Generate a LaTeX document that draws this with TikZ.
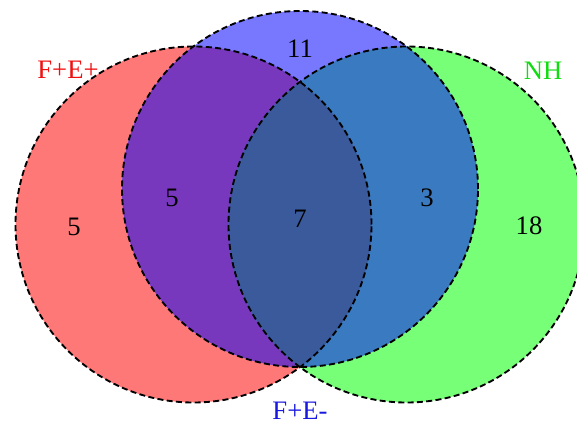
\documentclass[tikz,border=0pt]{standalone}
\usepackage{fontspec}
\setmainfont{Liberation Serif}
\usepackage{xcolor}
\usepackage{tikz}

\definecolor{setred}{HTML}{FF7878}
\definecolor{setblue}{HTML}{7878FF}
\definecolor{setgreen}{HTML}{78FF78}
\definecolor{redblue}{HTML}{7838BE}
\definecolor{bluegreen}{HTML}{3A7AC0}
\definecolor{allthree}{HTML}{3A5A9C}
\definecolor{labred}{HTML}{F01010}
\definecolor{labgreen}{HTML}{10DC10}
\definecolor{labblue}{HTML}{1818E0}

\begin{document}
\begin{tikzpicture}[
  x=0.75pt, y=-0.75pt,
  ring/.style={draw=black, dash pattern=on 4.5pt off 2.5pt, line width=1.4pt},
  count/.style={font=\fontsize{20}{24}\selectfont, text=black},
  setname/.style={font=\fontsize{20}{24}\selectfont},
  every node/.style={inner sep=0pt}
]
\useasboundingbox (0,0) rectangle (577,424);

% set centres
\coordinate (cR) at (193.5,224.5);
\coordinate (cB) at (300,189);
\coordinate (cG) at (406.5,224.5);

% single sets
\fill[setred] (cR) circle[radius=133.5pt];
\fill[setgreen] (cG) circle[radius=133.5pt];
\fill[setblue] (cB) circle[radius=133.5pt];

% pairwise overlaps
\begin{scope}
  \clip (cR) circle[radius=133.5pt];
  \fill[redblue] (cB) circle[radius=133.5pt];
\end{scope}
\begin{scope}
  \clip (cG) circle[radius=133.5pt];
  \fill[bluegreen] (cB) circle[radius=133.5pt];
\end{scope}
\begin{scope}
  \clip (cR) circle[radius=133.5pt];
  \fill[allthree] (cG) circle[radius=133.5pt];
\end{scope}

% outlines
\draw[ring] (cR) circle[radius=133.5pt];
\draw[ring] (cB) circle[radius=133.5pt];
\draw[ring] (cG) circle[radius=133.5pt];

% set names
\node[setname, text=labred] (nameR) at (68,70) {F+E+};
\node[setname, text=labgreen] (nameG) at (543,71) {NH};
\node[setname, text=labblue] (nameB) at (300,411) {F+E-};

% counts
\node[count] (onlyR) at (74,227) {5};
\node[count] (onlyB) at (300,49) {11};
\node[count] (onlyG) at (529,226) {18};
\node[count] (nRB) at (172,198) {5};
\node[count] (nBG) at (427,198) {3};
\node[count] (nAll) at (300,219) {7};

\end{tikzpicture}
\end{document}
